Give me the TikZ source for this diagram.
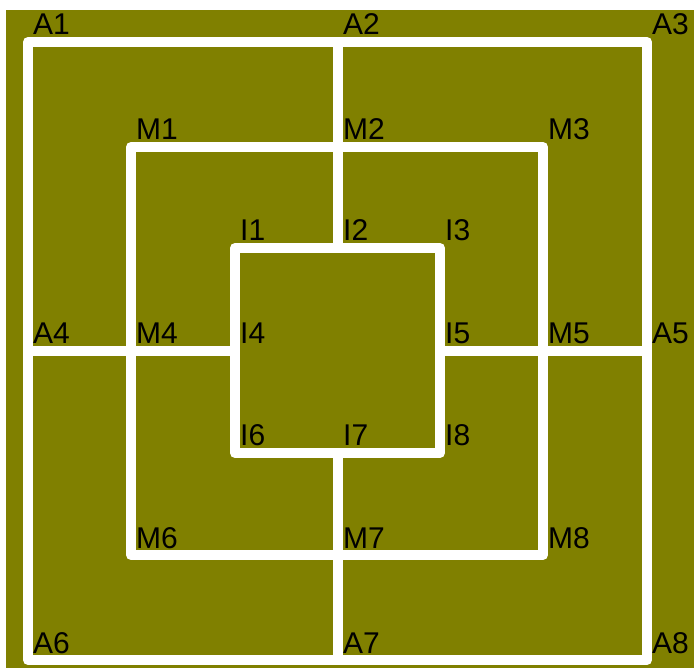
\documentclass[tikz,border=0pt]{standalone}
\usepackage{fontspec}
\setmainfont{Liberation Sans}
\definecolor{olivebg}{RGB}{128,128,0}
\tikzset{
  board/.style={draw=white, line width=10pt, line join=round, line cap=butt},
  lbl/.style={anchor=base west, inner sep=0pt, text=black, font=\fontsize{30}{30}\selectfont}
}
\begin{document}
\begin{tikzpicture}[x=1pt,y=-1pt]
\useasboundingbox (0,0) rectangle (694,668);
\fill[olivebg] (6,10) rectangle (694,668);
% outer
\coordinate (A1) at (28,42);  \coordinate (A2) at (338,42);  \coordinate (A3) at (647,42);
\coordinate (A4) at (28,351); \coordinate (A5) at (647,351);
\coordinate (A6) at (28,660); \coordinate (A7) at (338,660); \coordinate (A8) at (647,660);
% middle
\coordinate (M1) at (131,147); \coordinate (M2) at (338,147); \coordinate (M3) at (543,147);
\coordinate (M4) at (131,351); \coordinate (M5) at (543,351);
\coordinate (M6) at (131,555); \coordinate (M7) at (338,555); \coordinate (M8) at (543,555);
% inner
\coordinate (I1) at (235,248); \coordinate (I2) at (338,248); \coordinate (I3) at (440,248);
\coordinate (I4) at (235,351); \coordinate (I5) at (440,351);
\coordinate (I6) at (235,453); \coordinate (I7) at (338,453); \coordinate (I8) at (440,453);
% squares
\draw[board] (A1) -- (A3) -- (A8) -- (A6) -- cycle;
\draw[board] (M1) -- (M3) -- (M8) -- (M6) -- cycle;
\draw[board] (I1) -- (I3) -- (I8) -- (I6) -- cycle;
% connectors
\draw[board] (A2) -- (I2);
\draw[board] (I7) -- (A7);
\draw[board] (A4) -- (I4);
\draw[board] (I5) -- (A5);
% labels
\foreach \p in {A1,A2,A3,A4,A5,A6,A7,A8,M1,M2,M3,M4,M5,M6,M7,M8,I1,I2,I3,I4,I5,I6,I7,I8}{
  \node[lbl] (l\p) at ([shift={(5pt,7pt)}]\p) {\p};
}
\end{tikzpicture}
\end{document}
